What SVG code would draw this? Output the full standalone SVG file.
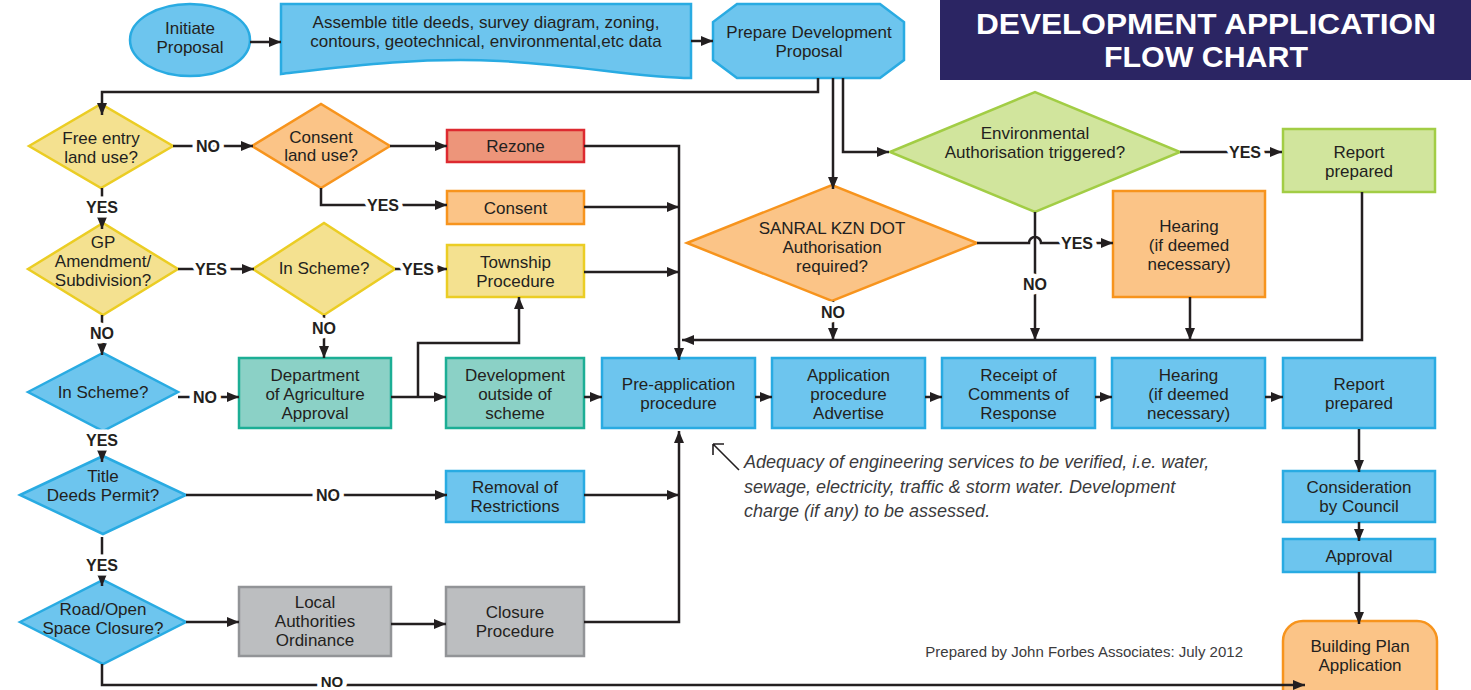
<svg xmlns="http://www.w3.org/2000/svg" width="1471" height="690" viewBox="0 0 1471 690">
  <defs>
    <marker id="ah" viewBox="0 0 12 10" refX="12" refY="5" markerWidth="12" markerHeight="10" markerUnits="userSpaceOnUse" orient="auto">
      <path d="M0,0 L12,5 L0,10 z" fill="#231f20"/>
    </marker>
    <style>
      .blue{fill:#6dc5ee;stroke:#29abe2;stroke-width:2.5}
      .yel{fill:#f4e190;stroke:#ebcd24;stroke-width:2.5}
      .org{fill:#fbc487;stroke:#f7941d;stroke-width:2.5}
      .red{fill:#ed957a;stroke:#dd2a30;stroke-width:2.5}
      .teal{fill:#8bd1c6;stroke:#1cae95;stroke-width:2.5}
      .gray{fill:#bcbec0;stroke:#929497;stroke-width:2.5}
      .grn{fill:#d1e59d;stroke:#a2cd45;stroke-width:2.5}
      .c{fill:none;stroke:#231f20;stroke-width:2.5}
      .a{marker-end:url(#ah)}
      text{font-family:"Liberation Sans",Arial,sans-serif;fill:#231f20}
      .n{font-size:17px;text-anchor:middle}
      .l{font-size:16px;font-weight:bold;text-anchor:middle;paint-order:stroke;stroke:#fff;stroke-width:9px;stroke-linejoin:round}
      .note{font-size:18px;font-style:italic;fill:#3b3b3d}
      .foot{font-size:15px;fill:#3b3b3d;text-anchor:end}
      .title{font-size:29px;font-weight:bold;fill:#fff;text-anchor:middle}
    </style>
  </defs>

  <rect width="1471" height="690" fill="#fff"/>

  <!-- heading banner -->
  <g id="heading">
    <rect x="940" y="0" width="531" height="80" fill="#2b2563"/>
    <text class="title" x="1206" y="34" textLength="460" lengthAdjust="spacingAndGlyphs">DEVELOPMENT APPLICATION</text>
    <text class="title" x="1206" y="66.5" textLength="204" lengthAdjust="spacingAndGlyphs">FLOW CHART</text>
  </g>

  <!-- top row -->
  <g id="initiate">
    <ellipse class="blue" cx="190" cy="40" rx="60" ry="36"/>
    <text class="n" x="190" y="34">Initiate</text>
    <text class="n" x="190" y="53">Proposal</text>
  </g>
  <g id="assemble">
    <path class="blue" d="M281,4 H691 V78 C640,78 580,65 500,61 C420,57 350,66 281,74 Z"/>
    <text class="n" x="486" y="28">Assemble title deeds, survey diagram, zoning,</text>
    <text class="n" x="486" y="47">contours, geotechnical, environmental,etc data</text>
  </g>
  <g id="prepare">
    <path class="blue" d="M737,4 H880 L904,22 V60 L880,78 H737 L713,60 V22 Z"/>
    <text class="n" x="809" y="38">Prepare Development</text>
    <text class="n" x="809" y="57">Proposal</text>
  </g>

  <!-- zoning decisions -->
  <g id="free-entry">
    <polygon class="yel" points="29,146 101,104 173,146 101,188"/>
    <text class="n" x="101" y="144">Free entry</text>
    <text class="n" x="101" y="163">land use?</text>
  </g>
  <g id="consent-use">
    <polygon class="org" points="252,146 321,104 390,146 321,188"/>
    <text class="n" x="321" y="143">Consent</text>
    <text class="n" x="321" y="161">land use?</text>
  </g>
  <g id="rezone">
    <rect class="red" x="447" y="130" width="137" height="32"/>
    <text class="n" x="515.5" y="152">Rezone</text>
  </g>
  <g id="consent">
    <rect class="org" x="447" y="191" width="137" height="33"/>
    <text class="n" x="515.5" y="214">Consent</text>
  </g>
  <g id="gp-amendment">
    <polygon class="yel" points="28,269 103,223 178,269 103,315"/>
    <text class="n" x="103" y="248">GP</text>
    <text class="n" x="103" y="267">Amendment/</text>
    <text class="n" x="103" y="286">Subdivision?</text>
  </g>
  <g id="in-scheme-gp">
    <polygon class="yel" points="253,269 324,223 395,269 324,315"/>
    <text class="n" x="324" y="274">In Scheme?</text>
  </g>
  <g id="township">
    <rect class="yel" x="447" y="245" width="137" height="52"/>
    <text class="n" x="515.5" y="268">Township</text>
    <text class="n" x="515.5" y="287">Procedure</text>
  </g>

  <g id="in-scheme">
    <polygon class="blue" points="28,392 103,353 178,392 103,431"/>
    <text class="n" x="103" y="398">In Scheme?</text>
  </g>
  <g id="agriculture">
    <rect class="teal" x="239" y="358" width="152" height="70"/>
    <text class="n" x="315" y="381">Department</text>
    <text class="n" x="315" y="400">of Agriculture</text>
    <text class="n" x="315" y="419">Approval</text>
  </g>
  <g id="outside-scheme">
    <rect class="teal" x="446" y="358" width="138" height="70"/>
    <text class="n" x="515" y="381">Development</text>
    <text class="n" x="515" y="400">outside of</text>
    <text class="n" x="515" y="419">scheme</text>
  </g>

  <!-- application procedure row -->
  <g id="pre-application">
    <rect class="blue" x="602" y="358" width="153" height="70"/>
    <text class="n" x="678.5" y="390">Pre-application</text>
    <text class="n" x="678.5" y="409">procedure</text>
  </g>
  <g id="advertise">
    <rect class="blue" x="772" y="358" width="153" height="70"/>
    <text class="n" x="848.5" y="381">Application</text>
    <text class="n" x="848.5" y="400">procedure</text>
    <text class="n" x="848.5" y="419">Advertise</text>
  </g>
  <g id="comments">
    <rect class="blue" x="942" y="358" width="153" height="70"/>
    <text class="n" x="1018.5" y="381">Receipt of</text>
    <text class="n" x="1018.5" y="400">Comments of</text>
    <text class="n" x="1018.5" y="419">Response</text>
  </g>
  <g id="hearing">
    <rect class="blue" x="1112" y="358" width="153" height="70"/>
    <text class="n" x="1188.5" y="381">Hearing</text>
    <text class="n" x="1188.5" y="400">(if deemed</text>
    <text class="n" x="1188.5" y="419">necessary)</text>
  </g>
  <g id="report">
    <rect class="blue" x="1283" y="358" width="152" height="70"/>
    <text class="n" x="1359" y="390">Report</text>
    <text class="n" x="1359" y="409">prepared</text>
  </g>
  <g id="council">
    <rect class="blue" x="1283" y="471" width="152" height="51"/>
    <text class="n" x="1359" y="493">Consideration</text>
    <text class="n" x="1359" y="512">by Council</text>
  </g>
  <g id="approval">
    <rect class="blue" x="1283" y="539" width="152" height="33"/>
    <text class="n" x="1359" y="562">Approval</text>
  </g>
  <g id="building-plan">
    <rect class="org" x="1283" y="621" width="154" height="100" rx="20"/>
    <text class="n" x="1360" y="652">Building Plan</text>
    <text class="n" x="1360" y="671">Application</text>
  </g>

  <!-- authorisations -->
  <g id="sanral">
    <polygon class="org" points="687,243 832,185 977,243 832,301"/>
    <text class="n" x="832" y="234">SANRAL KZN DOT</text>
    <text class="n" x="832" y="253">Authorisation</text>
    <text class="n" x="832" y="272">required?</text>
  </g>
  <g id="environmental">
    <polygon class="grn" points="890,152 1035,92 1180,152 1035,212"/>
    <text class="n" x="1035" y="139">Environmental</text>
    <text class="n" x="1035" y="158">Authorisation triggered?</text>
  </g>
  <g id="env-hearing">
    <rect class="org" x="1113" y="191" width="152" height="106"/>
    <text class="n" x="1189" y="232">Hearing</text>
    <text class="n" x="1189" y="251">(if deemed</text>
    <text class="n" x="1189" y="270">necessary)</text>
  </g>
  <g id="env-report">
    <rect class="grn" x="1283" y="129" width="152" height="63"/>
    <text class="n" x="1359" y="158">Report</text>
    <text class="n" x="1359" y="177">prepared</text>
  </g>

  <!-- title deeds and closures -->
  <g id="title-deeds">
    <polygon class="blue" points="20,495 103,456 186,495 103,534"/>
    <text class="n" x="103" y="482">Title</text>
    <text class="n" x="103" y="501">Deeds Permit?</text>
  </g>
  <g id="restrictions">
    <rect class="blue" x="446" y="471" width="138" height="51"/>
    <text class="n" x="515" y="493">Removal of</text>
    <text class="n" x="515" y="512">Restrictions</text>
  </g>
  <g id="road-closure">
    <polygon class="blue" points="20,622 103,580 186,622 103,664"/>
    <text class="n" x="103" y="615">Road/Open</text>
    <text class="n" x="103" y="634">Space Closure?</text>
  </g>
  <g id="ordinance">
    <rect class="gray" x="239" y="587" width="152" height="69"/>
    <text class="n" x="315" y="608">Local</text>
    <text class="n" x="315" y="627">Authorities</text>
    <text class="n" x="315" y="646">Ordinance</text>
  </g>
  <g id="closure">
    <rect class="gray" x="446" y="587" width="138" height="69"/>
    <text class="n" x="515" y="618">Closure</text>
    <text class="n" x="515" y="637">Procedure</text>
  </g>

  <!-- connectors (drawn over node outlines so arrowheads stay visible) -->
  <g id="connectors">
    <path class="c a" d="M250,42 H281"/>
    <path class="c a" d="M691,41 H713"/>
    <path class="c a" d="M818,78 V92 H102 V115"/>
    <path class="c a" d="M833,78 V189"/>
    <path class="c a" d="M843,78 V152 H889"/>

    <path class="c a" d="M173,146 H253"/>
    <path class="c a" d="M390,146 H447"/>
    <path class="c a" d="M321,188 V205 H447"/>
    <path class="c a" d="M102,188 V229"/>
    <path class="c a" d="M178,269 H254"/>
    <path class="c a" d="M395,269 H447"/>
    <path class="c a" d="M324,315 V358"/>
    <path class="c a" d="M102,315 V355"/>

    <path class="c a" d="M178,397 H239"/>
    <path class="c a" d="M391,397 H446"/>
    <path class="c a" d="M418,397 V343 H519 V297"/>
    <path class="c a" d="M584,397 H602"/>
    <path class="c a" d="M755,397 H772"/>
    <path class="c a" d="M925,397 H942"/>
    <path class="c a" d="M1095,397 H1112"/>
    <path class="c a" d="M1265,397 H1283"/>

    <path class="c a" d="M584,146 H679 V360"/>
    <path class="c a" d="M584,207 H679"/>
    <path class="c a" d="M584,272 H679"/>

    <path class="c a" d="M1362,192 V340 H682"/>
    <path class="c a" d="M833,301 V340"/>
    <path class="c a" d="M1035,212 V340"/>
    <path class="c a" d="M1190,297 V340"/>
    <path class="c a" d="M1180,152 H1282"/>
    <path class="c a" d="M977,243 H1029 A6,6 0 0 1 1041,243 H1113"/>

    <path class="c a" d="M102,431 V462"/>
    <path class="c a" d="M186,495 H447"/>
    <path class="c a" d="M584,495 H679"/>
    <path class="c a" d="M102,537 V586"/>
    <path class="c a" d="M186,622 H239"/>
    <path class="c a" d="M391,624 H446"/>
    <path class="c a" d="M584,622 H679 V431"/>
    <path class="c a" d="M102,664 V685 H1305"/>

    <path class="c a" d="M1359,429 V472"/>
    <path class="c a" d="M1359,522 V541"/>
    <path class="c a" d="M1359,572 V624"/>

    <!-- branch labels -->
    <text class="l" x="208" y="152">NO</text>
    <text class="l" x="383" y="211">YES</text>
    <text class="l" x="102" y="213">YES</text>
    <text class="l" x="211" y="275">YES</text>
    <text class="l" x="418" y="275">YES</text>
    <text class="l" x="324" y="334">NO</text>
    <text class="l" x="102" y="339">NO</text>
    <text class="l" x="205" y="403">NO</text>
    <text class="l" x="102" y="446">YES</text>
    <text class="l" x="328" y="501">NO</text>
    <text class="l" x="102" y="571">YES</text>
    <text class="l" x="332" y="686.5" style="font-size:15px">NO</text>
    <text class="l" x="833" y="318">NO</text>
    <text class="l" x="1035" y="290">NO</text>
    <text class="l" x="1077" y="249">YES</text>
    <text class="l" x="1245" y="158">YES</text>
  </g>

  <!-- engineering services note -->
  <g id="note">
    <path d="M739,470 L713,444 M713,444 V455 M713,444 H724" fill="none" stroke="#231f20" stroke-width="1.6"/>
    <text class="note" x="744" y="468">Adequacy of engineering services to be verified, i.e. water,</text>
    <text class="note" x="744" y="493">sewage, electricity, traffic &amp; storm water. Development</text>
    <text class="note" x="744" y="517">charge (if any) to be assessed.</text>
  </g>

  <text class="foot" x="1243" y="657">Prepared by John Forbes Associates: July 2012</text>
</svg>
